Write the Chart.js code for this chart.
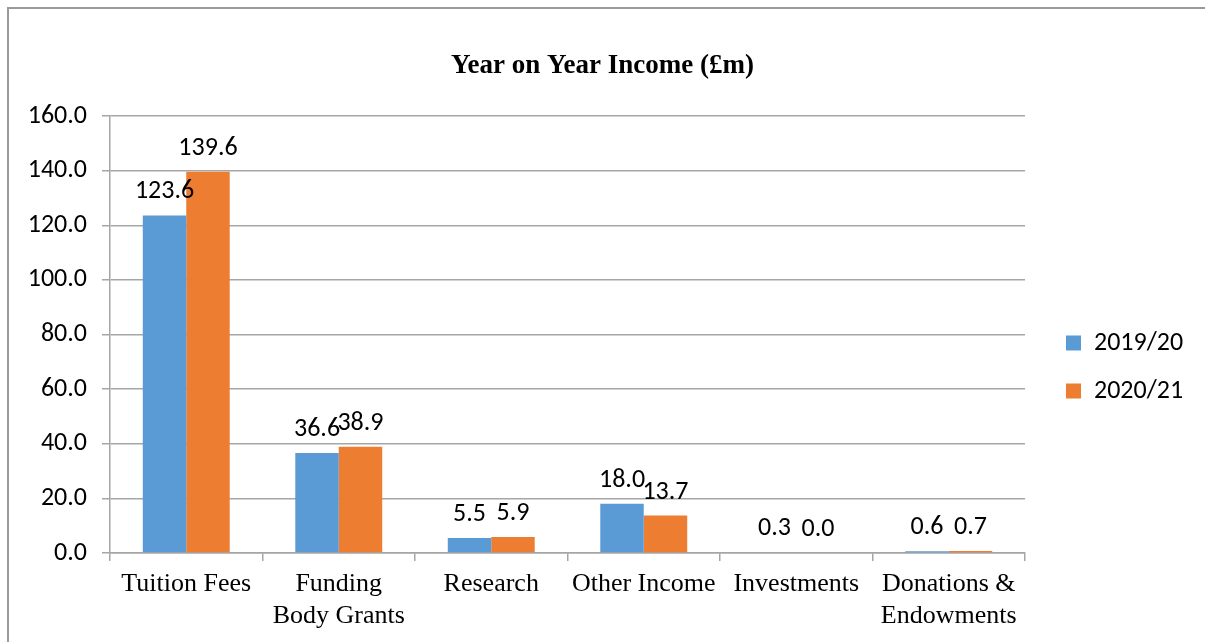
<!DOCTYPE html>
<html>
<head>
<meta charset="utf-8">
<script src="https://cdn.jsdelivr.net/npm/chart.js@4"></script>
<style>
  html, body { margin: 0; padding: 0; background: #fff; }
  #wrap { position: relative; width: 1205px; height: 642px; overflow: hidden; }
  #frame { position: absolute; left: 7px; top: 7px; width: 1300px; height: 700px; border-left: 2px solid #9a9a9a; border-top: 2px solid #9a9a9a; box-sizing: border-box; }
  canvas { position: absolute; left: 0; top: 0; }
</style>
</head>
<body>
<div id="wrap">
  <div id="frame"></div>
  <canvas id="c" width="1205" height="642"></canvas>
</div>
<script>
const categories = ["Tuition Fees", ["Funding", "Body Grants"], "Research", "Other Income", "Investments", ["Donations &", "Endowments"]];
const seriesNames = ["2019/20", "2020/21"];
const values2019 = [123.6, 36.6, 5.5, 18.0, 0.3, 0.6];
const values2020 = [139.6, 38.9, 5.9, 13.7, 0.0, 0.7];
const titleText = "Year on Year Income (£m)";

const SANS = "Carlito, Lato, 'Liberation Sans', sans-serif";
const SERIF = "'Liberation Serif', 'Times New Roman', serif";

const dataLabels = {
  id: 'dataLabels',
  afterDatasetsDraw(chart) {
    const ctx = chart.ctx;
    ctx.save();
    ctx.font = "26px " + SANS;
    ctx.fillStyle = "#000";
    ctx.textAlign = "center";
    ctx.textBaseline = "alphabetic";
    chart.data.datasets.forEach((ds, di) => {
      const meta = chart.getDatasetMeta(di);
      meta.data.forEach((bar, i) => {
        ctx.fillText(ds.data[i].toFixed(1), bar.x, bar.y - 17);
      });
    });
    ctx.restore();
  }
};

const legendFix = {
  id: 'legendFix',
  afterInit(chart) {
    const l = chart.legend;
    if (!l) return;
    const f = l.fit;
    l.fit = function () { f.call(this); this.width = 180; };
  },
  afterLayout(chart) {
    const l = chart.legend;
    if (!l) return;
    const dx = 1066 - (l.left + l.options.labels.padding);
    const dy = 46;
    l.left += dx; l.right += dx;
    l.top += dy; l.bottom += dy;
  }
};

new Chart(document.getElementById('c'), {
  type: 'bar',
  data: {
    labels: categories,
    datasets: [
      { label: seriesNames[0], data: values2019, backgroundColor: '#5B9BD5', barPercentage: 1.0, categoryPercentage: 0.57 },
      { label: seriesNames[1], data: values2020, backgroundColor: '#ED7D31', barPercentage: 1.0, categoryPercentage: 0.57 }
    ]
  },
  options: {
    responsive: false,
    animation: false,
    devicePixelRatio: 1,
    layout: { padding: { left: 0, right: 0, top: 0, bottom: 0 } },
    plugins: {
      title: {
        display: true,
        text: titleText,
        color: '#000',
        font: { family: SERIF, size: 27, weight: 'bold', lineHeight: 1.2 },
        padding: { top: 50, bottom: 33.6 }
      },
      legend: {
        position: 'right',
        labels: {
          boxWidth: 15,
          boxHeight: 15,
          padding: 22,
          color: '#000',
          font: { family: SANS, size: 26 }
        }
      },
      tooltip: { enabled: false }
    },
    scales: {
      x: {
        grid: { offset: true, drawOnChartArea: false, drawTicks: true, tickLength: 8, color: '#a6a6a6', lineWidth: 1.5 },
        border: { color: '#a6a6a6', width: 1.5 },
        ticks: { color: '#000', font: { family: SERIF, size: 26, lineHeight: 1.2 }, padding: 8, maxRotation: 0, autoSkip: false },
        afterFit(scale) { scale.height = 89; }
      },
      y: {
        min: 0, max: 160,
        grid: { color: '#a6a6a6', lineWidth: 1.5, tickLength: 8, tickColor: '#a6a6a6' },
        border: { color: '#a6a6a6', width: 1.5 },
        ticks: { stepSize: 20, color: '#000', font: { family: SANS, size: 26 }, padding: 15, callback: v => Number(v).toFixed(1) },
        afterFit(scale) { scale.width = 110; }
      }
    }
  },
  plugins: [dataLabels, legendFix]
});
</script>
</body>
</html>
